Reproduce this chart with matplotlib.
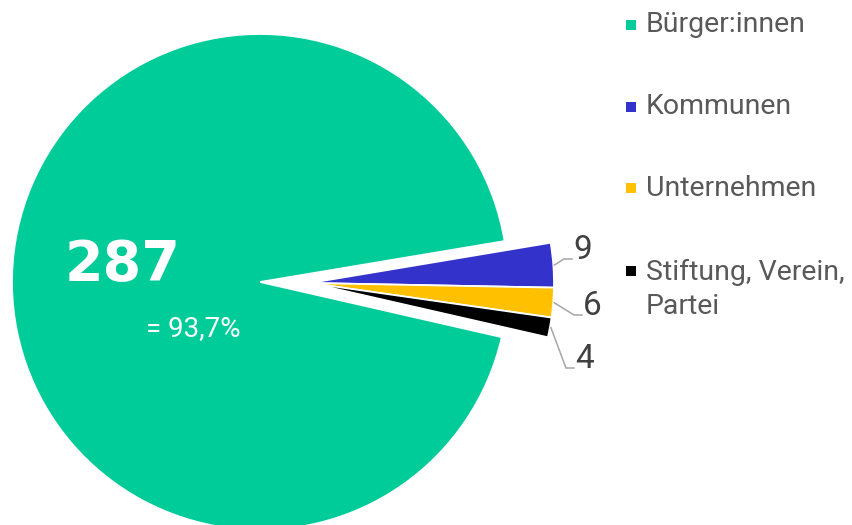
import matplotlib
matplotlib.use("Agg")
import matplotlib.pyplot as plt
import numpy as np

# ---- data ----
categories = ["Bürger:innen", "Kommunen", "Unternehmen", "Stiftung, Verein,\nPartei"]
values = [287, 9, 6, 4]
colors = ["#00CC99", "#3333CC", "#FFC000", "#000000"]
main_label = "287"
main_pct = "= 93,7%"

W, H = 852, 525
def Y(y):
    return H - y

fig = plt.figure(figsize=(W / 100, H / 100), dpi=100)
ax = fig.add_axes([0, 0, 1, 1])

total = sum(values)
green_span = values[0] / total * 360.0
start = 9.5 + green_span  # green ends (clockwise) at ~9.5 deg

wedges, _ = ax.pie(values, colors=colors, startangle=start, counterclock=False,
                   center=(260, Y(282)), radius=248,
                   wedgeprops=dict(edgecolor="white", linewidth=1.3))

# explode the small slices as a group
for w in wedges[1:]:
    w.set_center((310, Y(283)))
    w.set_radius(244)

ax.set_xlim(0, W)
ax.set_ylim(0, H)
ax.set_aspect("equal")
ax.axis("off")

font = "Roboto"

# big label inside green slice
ax.text(65, Y(265), main_label, color="white", fontsize=40, fontweight="bold",
        family="DejaVu Sans", ha="left", va="center")
ax.text(193, Y(329), main_pct, color="white", fontsize=20, fontweight="normal",
        family=font, ha="center", va="center")

# data labels with leader lines
label_pos = [(573, 250), (583, 306), (575, 359)]
for w, v, (tx, ty) in zip(wedges[1:], values[1:], label_pos):
    mid = np.deg2rad((w.theta1 + w.theta2) / 2)
    cx, cy = w.center
    sx = cx + (w.r + 1) * np.cos(mid)
    sy = cy + (w.r + 1) * np.sin(mid)
    ex, ey = tx - 9, Y(ty + 9)
    ax.plot([sx, ex, tx - 1], [sy, ey, ey], color="#A6A6A6", linewidth=1.1,
            solid_joinstyle="miter")
    ax.text(tx, Y(ty), str(v), color="#404040", fontsize=24, fontweight="normal",
            family=font, ha="left", va="center")

# legend (manual)
leg_y = [25, 107, 188, 271]
for c, lab, ly in zip(colors, categories, leg_y):
    ax.add_patch(plt.Rectangle((626, Y(ly + 5)), 10, 10, color=c, lw=0))
    if "\n" in lab:
        ax.text(646, Y(ly - 12), lab, color="#595959", fontsize=20.5,
                fontweight="normal", family=font, ha="left", va="top",
                linespacing=1.32)
    else:
        ax.text(646, Y(ly), lab, color="#595959", fontsize=20.5,
                fontweight="normal", family=font, ha="left", va="center")

fig.savefig("out.png", dpi=100)
